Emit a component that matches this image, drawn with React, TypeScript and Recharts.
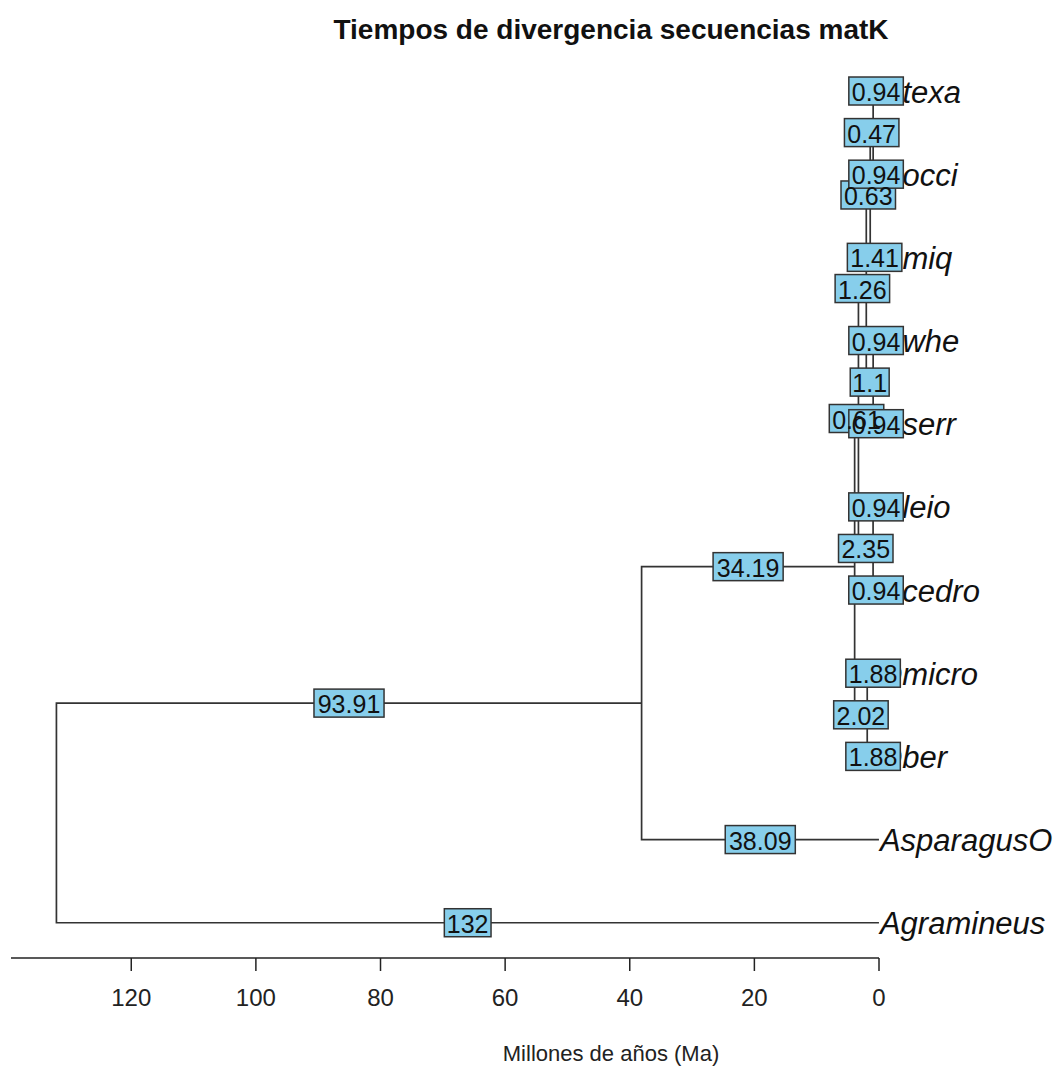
import React from 'react';
import { ComposedChart, Line, Scatter, XAxis, YAxis } from 'recharts';

// tip labels, top to bottom (the leading "D" sits under the edge-label boxes)
const tipNames = ['Dtexa', 'Docci', 'Dmiq', 'Dwhe', 'Dserr', 'Dleio', 'Dcedro', 'Dmicro', 'Dber', 'AsparagusO', 'Agramineus'];

// tree edges: parent -> child with branch length (Ma)
const edgeParent = ['R', 'R', 'A', 'A', 'B', 'B', 'D', 'D', 'C', 'C', 'F', 'F', 'E', 'E', 'H', 'H', 'G', 'G', 'I', 'I'];
const edgeChild = ['Agramineus', 'A', 'AsparagusO', 'B', 'C', 'D', 'Dmicro', 'Dber', 'E', 'F', 'Dleio', 'Dcedro', 'G', 'H', 'Dwhe', 'Dserr', 'Dmiq', 'I', 'Dtexa', 'Docci'];
const edgeLength = [132, 93.91, 38.09, 34.19, 0.61, 2.02, 1.88, 1.88, 1.26, 2.35, 0.94, 0.94, 0.63, 1.1, 0.94, 0.94, 1.41, 0.47, 0.94, 0.94];

const ageTicks = [0, 20, 40, 60, 80, 100, 120];

const FONT = '"Liberation Sans", Arial, sans-serif';
const LINE = '#333';
const BOX_FILL = '#87CEEB';
const LABEL_SIZE = 25;

// --- layout (like ape's plot.phylo) ---
const depth: Record<string, number> = { R: 0 };
edgeParent.forEach((p, i) => { depth[edgeChild[i]] = depth[p] + edgeLength[i]; });
const maxDepth = Math.max(...Object.values(depth));
const age = (n: string) => maxDepth - depth[n];

const childrenOf: Record<string, string[]> = {};
edgeParent.forEach((p, i) => { (childrenOf[p] = childrenOf[p] || []).push(edgeChild[i]); });

const yPos: Record<string, number> = {};
function placeY(n: string): number {
  if (!childrenOf[n]) { yPos[n] = tipNames.indexOf(n) + 1; return yPos[n]; }
  const ys = childrenOf[n].map(placeY);
  yPos[n] = (Math.min(...ys) + Math.max(...ys)) / 2;
  return yPos[n];
}
placeY('R');

// one bracket per internal node: child edge, vertical, child edge
const brackets = Object.keys(childrenOf).map(n => {
  const [a, b] = childrenOf[n];
  return [
    { x: age(a), y: yPos[a] },
    { x: age(n), y: yPos[a] },
    { x: age(n), y: yPos[b] },
    { x: age(b), y: yPos[b] },
  ];
});

const tipData = tipNames.map(n => ({ x: age(n), y: yPos[n], name: n }));
const edgeLabelData = edgeChild.map((c, i) => ({
  x: (age(edgeParent[i]) + age(c)) / 2,
  y: yPos[c],
  text: String(edgeLength[i]),
}));

const textW = (s: string, size: number) =>
  s.split('').reduce((w, ch) => w + (ch === '.' ? 0.278 : 0.556), 0) * size;

// boxes first, texts after (so overlapping labels show both texts, as in the original)
function EdgeBox(props: any) {
  const { cx, cy, payload } = props;
  const w = textW(payload.text, LABEL_SIZE) * 1.12;
  const h = 28;
  return <rect x={cx - w / 2} y={cy - h / 2} width={w} height={h} fill={BOX_FILL} stroke={LINE} strokeWidth={1.5} />;
}

function EdgeText(props: any) {
  const { cx, cy, payload } = props;
  return (
    <text x={cx} y={cy + 1} textAnchor="middle" dominantBaseline="central" fontSize={LABEL_SIZE} fontFamily={FONT} fill="#111">
      {payload.text}
    </text>
  );
}

function TipLabel(props: any) {
  const { cx, cy, payload } = props;
  return (
    <text x={cx + 1} y={cy + 1} dominantBaseline="central" fontSize={31} fontStyle="italic" fontFamily={FONT} fill="#111">
      {payload.name}
    </text>
  );
}

function AxisTitle(props: any) {
  const { viewBox } = props;
  return (
    <text x={611} y={viewBox.y + 95} textAnchor="middle" dominantBaseline="central" fontSize={22} fontFamily={FONT} fill="#222">
      Millones de años (Ma)
    </text>
  );
}

export default function App() {
  return (
    <div style={{ position: 'relative', width: 1053, height: 1066, background: '#fff' }}>
      <style>{'body{margin:0}'}</style>
      <div style={{
        position: 'absolute', left: 611, top: 13, transform: 'translateX(-50%)', whiteSpace: 'nowrap',
        fontFamily: FONT, fontWeight: 'bold', fontSize: 28, lineHeight: '34px', color: '#111',
      }}>
        Tiempos de divergencia secuencias matK
      </div>
      <ComposedChart width={1053} height={1066} margin={{ top: 55, right: 174, left: 11, bottom: 28 }}>
        <XAxis
          type="number" dataKey="x" domain={[0, 139.3]} reversed
          ticks={ageTicks} interval={0} height={80}
          tickSize={13} tickMargin={18}
          axisLine={{ stroke: '#222', strokeWidth: 1.5 }}
          tickLine={{ stroke: '#222', strokeWidth: 1.5 }}
          tick={{ fontSize: 24, fontFamily: FONT, fill: '#222' }}
          label={{ value: 'Millones de años (Ma)', content: AxisTitle }}
        />
        <YAxis type="number" dataKey="y" domain={[0.567, 11.424]} reversed hide />
        {brackets.map((pts, i) => (
          <Line key={'b' + i} data={pts} dataKey="y" type="linear" stroke={LINE} strokeWidth={1.7}
            dot={false} activeDot={false} isAnimationActive={false} />
        ))}
        <Scatter data={tipData} shape={TipLabel} isAnimationActive={false} />
        <Scatter data={edgeLabelData} shape={EdgeBox} isAnimationActive={false} />
        <Scatter data={edgeLabelData} shape={EdgeText} isAnimationActive={false} />
      </ComposedChart>
    </div>
  );
}
